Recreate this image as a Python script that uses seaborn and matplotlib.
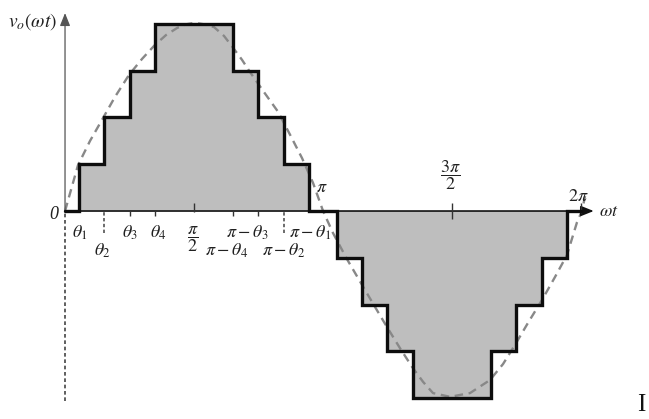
import numpy as np
import matplotlib
matplotlib.use("Agg")
import matplotlib.pyplot as plt
import seaborn as sns

# Switching angles of the multilevel staircase (degrees) and the dc levels they add
switch_angles_deg = [9.5, 27.0, 45.0, 62.5]
step_levels = [1, 2, 3, 4]

# Fundamental component, sampled over one period (omega*t in rad, level units)
fund_wt = [0.000, 0.158, 0.305, 0.451, 0.609, 0.780, 0.938, 1.096, 1.230, 1.364,
           1.474, 1.583, 1.693, 1.815, 1.937, 2.046, 2.156, 2.253, 2.424, 2.595,
           2.741, 2.887, 3.021, 3.143, 3.264, 3.435, 3.618, 3.776, 3.922, 4.080,
           4.227, 4.361, 4.482, 4.689, 4.933, 5.177, 5.335, 5.481, 5.639, 5.810,
           5.968, 6.114, 6.236, 6.297, 6.334]
fund_v = [0.00, 0.98, 1.50, 1.95, 2.44, 2.91, 3.25, 3.55, 3.76, 3.91,
          3.99, 4.02, 3.99, 3.93, 3.74, 3.49, 3.23, 2.97, 2.54, 2.12,
          1.63, 1.13, 0.60, 0.00, -0.47, -1.03, -1.58, -2.05, -2.48, -2.93,
          -3.33, -3.65, -3.89, -3.97, -3.89, -3.61, -3.27, -2.86, -2.39, -1.90,
          -1.41, -0.94, -0.24, 0.00, 0.32]

sns.set_theme(style="white")
plt.rcParams["font.family"] = ["Liberation Serif", "DejaVu Serif"]
plt.rcParams["mathtext.fontset"] = "stix"

pi = np.pi
th = np.radians(switch_angles_deg)

# Staircase breakpoints (steps-post): rise through the levels, then fall back
half_x = list(th) + list(pi - th[::-1])
half_y = list(step_levels) + list(step_levels[::-1][1:]) + [0]
stair_x = [0.0] + half_x + [pi + v for v in half_x] + [2 * pi]
stair_y = [0] + half_y + [-v for v in half_y] + [0]

fig = plt.figure(figsize=(6.49, 4.19), dpi=100)
ax = fig.add_axes([0, 0, 1, 1])
ax.set_xlim(-0.792, 7.113)
ax.set_ylim(-4.444, 4.509)
ax.axis("off")

ax.fill_between(stair_x, stair_y, 0, step="post", color="#bebebe", lw=0, zorder=1)

sns.lineplot(x=fund_wt, y=fund_v, sort=False, estimator=None, ax=ax,
             color="#888888", lw=1.7, linestyle=(0, (3.6, 2.4)), zorder=3)
sns.lineplot(x=stair_x, y=stair_y, sort=False, estimator=None, ax=ax,
             drawstyle="steps-post", color="#0d0d0d", lw=2.4, zorder=5,
             solid_joinstyle="miter")

# Axes with arrow heads
ax.annotate("", xy=(6.44, 0), xytext=(0, 0),
            arrowprops=dict(arrowstyle="-|>,head_length=0.55,head_width=0.22",
                            color="#111111", lw=1.2, mutation_scale=14,
                            shrinkA=0, shrinkB=0), zorder=4)
ax.annotate("", xy=(0, 4.23), xytext=(0, 0),
            arrowprops=dict(arrowstyle="-|>,head_length=0.55,head_width=0.22",
                            color="#555555", lw=0.9, mutation_scale=14,
                            shrinkA=0, shrinkB=0), zorder=4)
ax.vlines(0, -4.06, 0, color="#444444", lw=1.2, linestyles=[(0, (2.2, 1.6))], zorder=2)

# Angle markers on the horizontal axis
ax.vlines([th[1], pi - th[1]], -0.47, 0, color="#444444", lw=1.1,
          linestyles=[(0, (2.2, 1.6))], zorder=2)
ax.vlines([th[2], th[3], pi - th[3], pi - th[2]], -0.10, 0.0, color="#333333", lw=1.0, zorder=4)
ax.vlines(pi / 2, -0.02, 0.18, color="#333333", lw=1.0, zorder=4)
ax.vlines(3 * pi / 2, -0.17, 0.17, color="#333333", lw=1.0, zorder=4)
ax.vlines(2 * pi, -0.04, 0.17, color="#333333", lw=1.0, zorder=4)

tc = "#202020"
fs = 13
ax.text(-0.134, -0.085, "0", fontsize=fs, style="italic", color=tc, ha="center", va="center")
ax.text(0.183, -0.47, r"$\theta_1$", fontsize=fs, color=tc, ha="center", va="center")
ax.text(0.451, -0.855, r"$\theta_2$", fontsize=fs, color=tc, ha="center", va="center")
ax.text(0.786, -0.47, r"$\theta_3$", fontsize=fs, color=tc, ha="center", va="center")
ax.text(1.133, -0.47, r"$\theta_4$", fontsize=fs, color=tc, ha="center", va="center")
ax.text(1.559, -0.60, r"$\dfrac{\pi}{2}$", fontsize=fs, color=tc, ha="center", va="center")
ax.text(2.217, -0.47, r"$\pi-\theta_3$", fontsize=fs, color=tc, ha="center", va="center")
ax.text(1.973, -0.855, r"$\pi-\theta_4$", fontsize=fs, color=tc, ha="center", va="center")
ax.text(2.667, -0.855, r"$\pi-\theta_2$", fontsize=fs, color=tc, ha="center", va="center")
ax.text(2.984, -0.47, r"$\pi-\theta_1$", fontsize=fs, color=tc, ha="center", va="center", zorder=0.5)
ax.text(3.130, 0.513, r"$\pi$", fontsize=fs, color=tc, ha="center", va="center")
ax.text(4.689, 0.77, r"$\dfrac{3\pi}{2}$", fontsize=fs, color=tc, ha="center", va="center")
ax.text(6.248, 0.32, r"$2\pi$", fontsize=fs, color=tc, ha="center", va="center")
ax.text(6.50, 0.0, r"$\omega t$", fontsize=fs, color=tc, ha="left", va="center")
ax.text(-0.39, 4.04, r"$v_o(\omega t)$", fontsize=14, color=tc, ha="center", va="center")
ax.text(7.016, -4.145, "I", fontsize=18, color="#111111", ha="center", va="center")

fig.savefig("out.png", dpi=100)
